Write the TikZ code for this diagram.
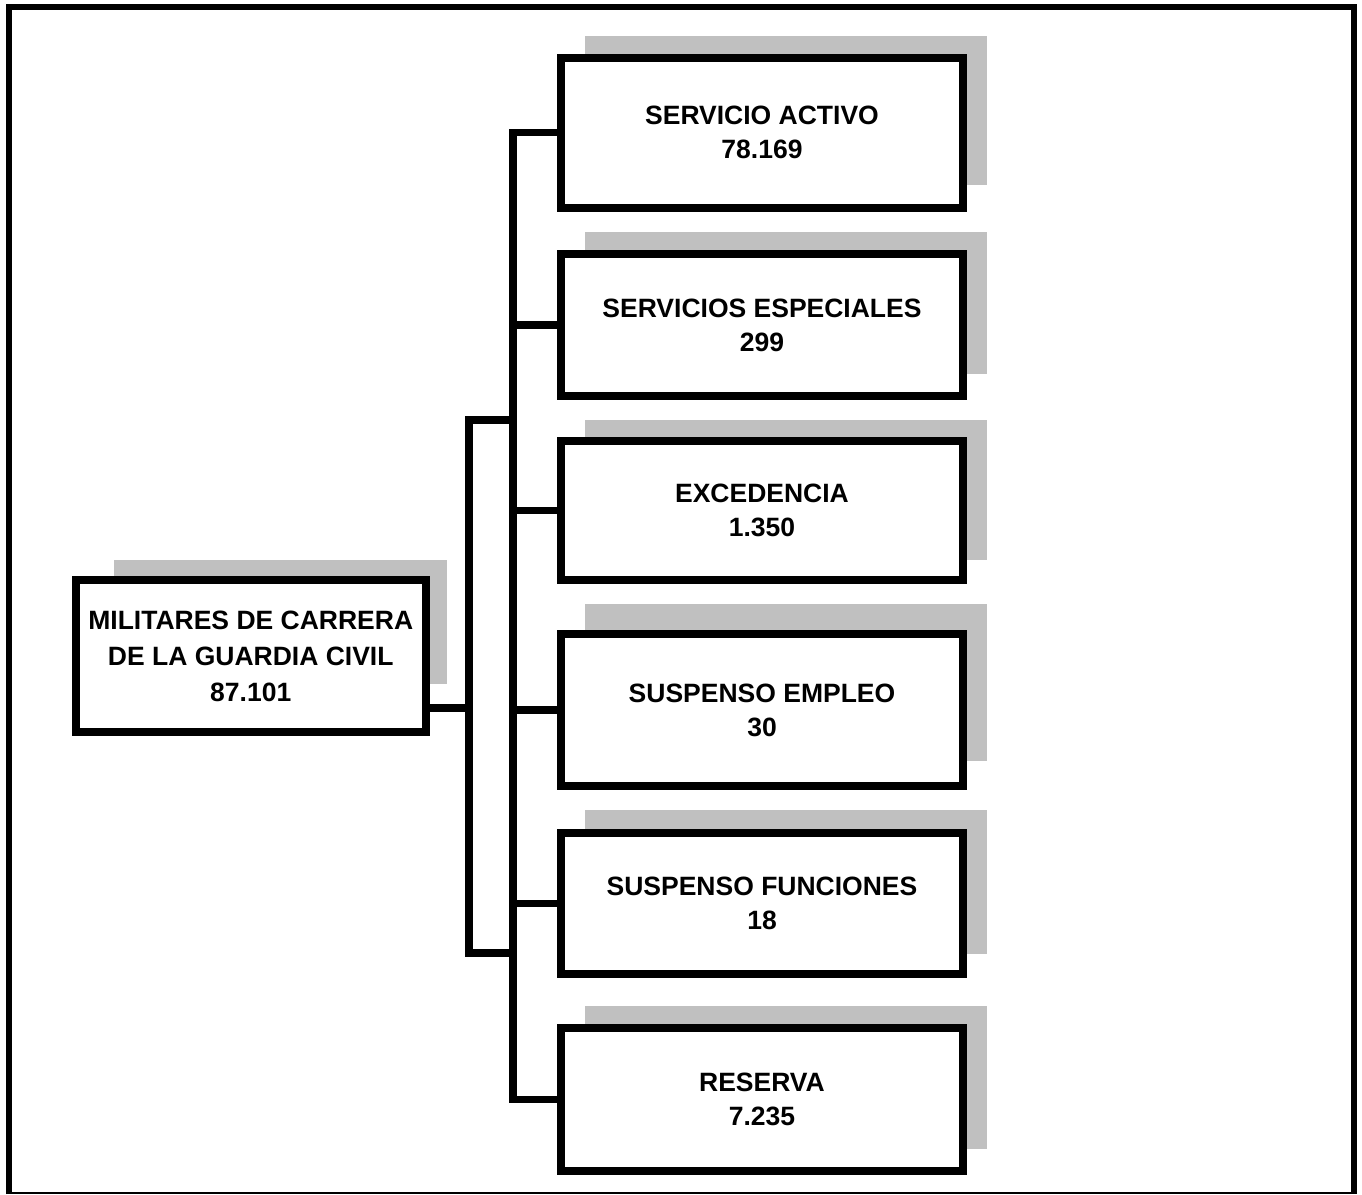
\documentclass[tikz,border=0pt]{standalone}
\usepackage{fontspec}
\setmainfont{Liberation Sans}
\definecolor{shadowgray}{RGB}{192,192,192}
\begin{document}
\begin{tikzpicture}[x=1pt,y=-1pt,
  box/.style={draw=black,line width=8pt,fill=white,rectangle,inner sep=0pt,outer sep=0pt,
    align=center,font=\bfseries\fontsize{26.5}{34}\selectfont},
  rbox/.style={box,minimum width=402pt},
  shade/.style={fill=shadowgray,draw=none},
  conn/.style={line width=7.5pt,draw=black,line join=miter},
  frame/.style={line width=6pt,draw=black}]
\useasboundingbox (0,0) rectangle (1362,1194);
% outer frame
\draw[frame] (9,1194) -- (9,7) -- (1354,7) -- (1354,1194);
\draw[line width=2.5pt] (9,1193) -- (1354,1193);
% shadows
\fill[shade] (114,560) rectangle (447,684);
\fill[shade] (585,36) rectangle (987,185);
\fill[shade] (585,232) rectangle (987,374);
\fill[shade] (585,420) rectangle (987,560);
\fill[shade] (585,604) rectangle (987,761);
\fill[shade] (585,810) rectangle (987,954);
\fill[shade] (585,1006) rectangle (987,1149);
% boxes
\node[box,minimum width=349.5pt,minimum height=152pt,font=\bfseries\fontsize{26.5}{36}\selectfont]
  (left) at (250.75,656) {MILITARES DE CARRERA\\DE LA GUARDIA CIVIL\\87.101};
\node[rbox,minimum height=150pt] (b1) at (762,132.5) {SERVICIO ACTIVO\\78.169};
\node[rbox,minimum height=142pt] (b2) at (762,325) {SERVICIOS ESPECIALES\\299};
\node[rbox,minimum height=139pt] (b3) at (762,510.5) {EXCEDENCIA\\1.350};
\node[rbox,minimum height=152pt] (b4) at (762,710) {SUSPENSO EMPLEO\\30};
\node[rbox,minimum height=141pt] (b5) at (762,903.5) {SUSPENSO FUNCIONES\\18};
\node[rbox,minimum height=143.5pt] (b6) at (762,1099.25) {RESERVA\\7.235};
% connector geometry
\coordinate (tx) at (513,0);
\coordinate (bt) at (513,420);
\coordinate (bb) at (513,953);
\coordinate (lj) at (469,708);
% trunk
\draw[conn] (b1.west) -- (b1.west -| tx) -- (b6.west -| tx) -- (b6.west);
\draw[conn] (b2.west) -- (b2.west -| tx);
\draw[conn] (b3.west) -- (b3.west -| tx);
\draw[conn] (b4.west) -- (b4.west -| tx);
\draw[conn] (b5.west) -- (b5.west -| tx);
% bracket
\draw[conn] (bt) -- (bt -| lj) -- (bb -| lj) -- (bb);
\draw[conn] (left.east |- lj) -- (lj);
\end{tikzpicture}
\end{document}
